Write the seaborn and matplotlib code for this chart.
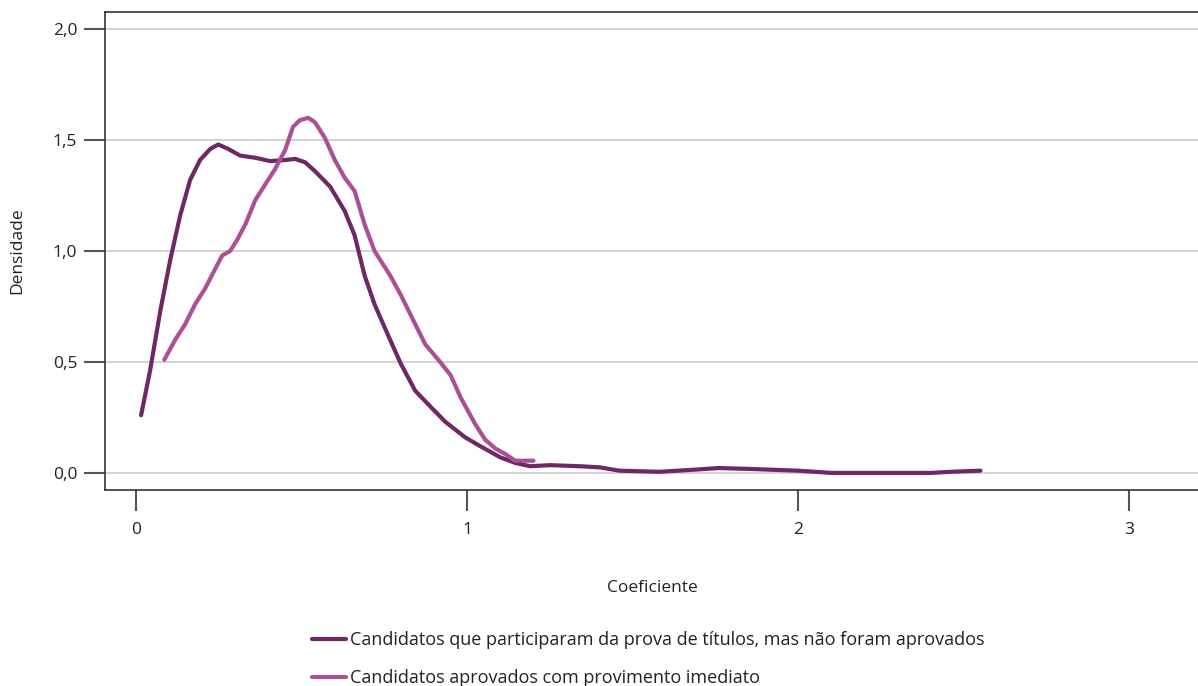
import matplotlib
matplotlib.use("Agg")
import matplotlib.pyplot as plt
import seaborn as sns
import pandas as pd
from matplotlib.ticker import FuncFormatter

# Data
nao_aprov_x = [0.015, 0.042, 0.073, 0.103, 0.133, 0.163, 0.193, 0.224, 0.248, 0.278, 0.314, 0.36,
               0.405, 0.45, 0.48, 0.51, 0.54, 0.586, 0.63, 0.66, 0.69, 0.72, 0.767, 0.80, 0.843,
               0.888, 0.934, 0.994, 1.04, 1.10, 1.145, 1.19, 1.25, 1.34, 1.40, 1.46, 1.58, 1.67,
               1.76, 1.85, 2.0, 2.10, 2.25, 2.40, 2.46, 2.55]
nao_aprov_y = [0.26, 0.46, 0.73, 0.96, 1.16, 1.32, 1.41, 1.46, 1.48, 1.46, 1.43, 1.42,
               1.405, 1.41, 1.415, 1.40, 1.36, 1.29, 1.18, 1.07, 0.89, 0.76, 0.60, 0.49, 0.37,
               0.30, 0.23, 0.16, 0.12, 0.07, 0.045, 0.03, 0.035, 0.03, 0.025, 0.01, 0.005, 0.013,
               0.022, 0.018, 0.01, 0.0, 0.0, 0.0, 0.005, 0.01]

aprov_x = [0.085, 0.118, 0.148, 0.178, 0.208, 0.239, 0.26, 0.284, 0.305, 0.33, 0.36, 0.39, 0.42,
           0.45, 0.474, 0.495, 0.52, 0.54, 0.57, 0.60, 0.63, 0.66, 0.69, 0.72, 0.767, 0.80,
           0.843, 0.873, 0.918, 0.95, 0.98, 1.024, 1.054, 1.085, 1.115, 1.145, 1.2]
aprov_y = [0.51, 0.60, 0.67, 0.76, 0.83, 0.92, 0.98, 1.0, 1.05, 1.12, 1.23, 1.30, 1.37,
           1.455, 1.56, 1.59, 1.60, 1.58, 1.51, 1.41, 1.33, 1.27, 1.12, 1.0, 0.89, 0.80,
           0.67, 0.58, 0.50, 0.44, 0.34, 0.22, 0.15, 0.11, 0.085, 0.055, 0.055]

labels = ["Candidatos que participaram da prova de títulos, mas não foram aprovados",
          "Candidatos aprovados com provimento imediato"]
colors = ["#6e2864", "#ab5095"]

x_ticks = [0, 1, 2, 3]
y_ticks = [0.0, 0.5, 1.0, 1.5, 2.0]

df = pd.concat([
    pd.DataFrame({"x": nao_aprov_x, "y": nao_aprov_y, "grupo": labels[0]}),
    pd.DataFrame({"x": aprov_x, "y": aprov_y, "grupo": labels[1]}),
])

sns.set_theme(style="white")
plt.rcParams["font.family"] = ["Open Sans", "DejaVu Sans"]
FS = 12.5

fig = plt.figure(figsize=(11.98, 6.86), dpi=100)
ax = fig.add_axes([105/1198, 1 - 490/686, (1199 - 105)/1198, (490 - 12)/686])

sns.lineplot(data=df, x="x", y="y", hue="grupo", palette=colors, hue_order=labels,
             sort=False, estimator=None, linewidth=3, ax=ax, legend=True)

ax.set_xlim(-0.094, 3.21)
ax.set_ylim(-0.077, 2.077)
ax.set_xticks(x_ticks)
ax.set_yticks(y_ticks)
ax.yaxis.set_major_formatter(FuncFormatter(lambda v, p: f"{v:.1f}".replace(".", ",")))
ax.xaxis.set_major_formatter(FuncFormatter(lambda v, p: f"{int(v)}"))
ax.grid(axis="y", color="#cccccc", linewidth=1.2)
ax.set_axisbelow(True)

for s in ["left", "bottom", "top"]:
    ax.spines[s].set_color("#333333")
    ax.spines[s].set_linewidth(1.2)
ax.spines["right"].set_visible(False)

ax.tick_params(axis="both", which="both", direction="out", bottom=True, left=True,
               length=15, width=1.5, color="#555555", labelsize=FS, labelcolor="#222222")
ax.tick_params(axis="y", pad=5)
ax.tick_params(axis="x", pad=8)

ax.set_xlabel("Coeficiente", fontsize=FS, color="#222222", labelpad=30)
ax.set_ylabel("Densidade", fontsize=FS, color="#222222", labelpad=20)

handles, lbls = ax.get_legend_handles_labels()
ax.legend_.remove()
fig.legend(handles, lbls, loc="upper left", bbox_to_anchor=(296/1198, 1 - 615/686),
           frameon=False, fontsize=FS + 0.5, handlelength=1.85, handletextpad=0.25,
           labelspacing=1.1, labelcolor="#222222")

fig.savefig("out.png", dpi=100)
